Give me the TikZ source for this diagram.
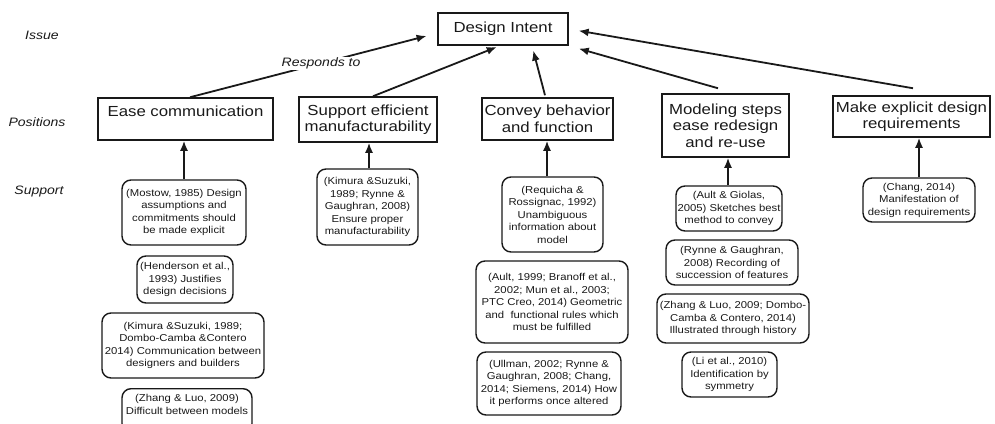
\documentclass[tikz,border=0pt]{standalone}
\usepackage{fontspec}
\setmainfont{Liberation Sans}
\newfontfamily\mainf[FakeStretch=1.15]{Liberation Sans}
\newfontfamily\supf[FakeStretch=1.13]{Liberation Sans}
\usetikzlibrary{arrows.meta,calc}
\definecolor{ink}{gray}{0.1}
\begin{document}
\begin{tikzpicture}[x=1pt,y=-1pt,
  mainbox/.style={draw=ink, line width=1.5pt, rectangle, inner sep=0pt, align=center, text=ink,
    font=\mainf\fontsize{14.6}{16.5}\selectfont},
  supbox/.style={draw=ink, line width=1.4pt, rounded corners=9pt, inner sep=0pt, align=center, text=ink,
    font=\supf\fontsize{10}{12.5}\selectfont},
  lab/.style={text=ink, font=\mainf\itshape\fontsize{12.2}{14}\selectfont},
  arr/.style={draw=ink, line width=1.8pt, -{Latex[length=10pt,width=8pt]}}]
\useasboundingbox (0,0) rectangle (995,423);

% labels on the left
\node[lab] (issue) at (42,35) {Issue};
\node[lab] (positions) at (37,122) {Positions};
\node[lab] (support) at (39,192) {Support};

% issue
\node[mainbox, minimum width=130, minimum height=32] (di) at (503,29) {Design Intent};

% positions
\node[mainbox, minimum width=175, minimum height=42] (ease) at (185.5,119) {Ease communication\\\mbox{}};
\node[mainbox, minimum width=138, minimum height=45] (seff) at (368,119.5) {Support efficient\\manufacturability};
\node[mainbox, minimum width=131, minimum height=42] (conv) at (547.5,119) {Convey behavior\\and function};
\node[mainbox, minimum width=127, minimum height=63] (model) at (725.5,125.5) {Modeling steps\\ease redesign\\and re-use};
\node[mainbox, minimum width=157, minimum height=41] (make) at (911.5,116.5) {Make explicit design\\requirements};

% support column 1
\node[supbox, minimum width=124, minimum height=65] (s1a) at (184,212.5) {(Mostow, 1985) Design\\assumptions and\\commitments should\\be made explicit};
\node[supbox, minimum width=96, minimum height=47] (s1b) at (185,279.5) {(Henderson et al.,\\1993) Justifies\\design decisions};
\node[supbox, minimum width=162, minimum height=65] (s1c) at (183,345.5) {(Kimura \&Suzuki, 1989;\\Dombo-Camba \&Contero\\2014) Communication between\\designers and builders};
\node[supbox, minimum width=130, minimum height=44, anchor=north] (s1d) at (187,388) {(Zhang \& Luo, 2009)\\Difficult between models\\\mbox{}};

% support column 2
\node[supbox, minimum width=101, minimum height=76] (s2) at (367.5,207) {(Kimura \&Suzuki,\\1989; Rynne \&\\Gaughran, 2008)\\Ensure proper\\manufacturability};

% support column 3
\node[supbox, minimum width=101, minimum height=75] (s3a) at (552.5,214.5) {(Requicha \&\\Rossignac, 1992)\\Unambiguous\\information about\\model};
\node[supbox, minimum width=152, minimum height=82] (s3b) at (552,302) {(Ault, 1999; Branoff et al.,\\2002; Mun et al., 2003;\\PTC Creo, 2014) Geometric\\and\ \ functional rules which\\must be fulfilled};
\node[supbox, minimum width=144, minimum height=63] (s3c) at (549,383.5) {(Ullman, 2002; Rynne \&\\Gaughran, 2008; Chang,\\2014; Siemens, 2014) How\\it performs once altered};

% support column 4
\node[supbox, minimum width=106, minimum height=45] (s4a) at (729,208.5) {(Ault \& Giolas,\\2005) Sketches best\\method to convey};
\node[supbox, minimum width=132, minimum height=45] (s4b) at (732,262.5) {(Rynne \& Gaughran,\\2008) Recording of\\succession of features};
\node[supbox, minimum width=152, minimum height=49] (s4c) at (733,318.5) {(Zhang \& Luo, 2009; Dombo-\\Camba \& Contero, 2014)\\Illustrated through history};
\node[supbox, minimum width=95, minimum height=45] (s4d) at (729.5,374.5) {(Li et al., 2010)\\Identification by\\symmetry};

% support column 5
\node[supbox, minimum width=112, minimum height=44] (s5) at (919,200) {(Chang, 2014)\\Manifestation of\\design requirements};

% positions -> issue
\draw[arr, shorten >=11pt] ($(ease.north)+(4.5,0)$) -- node[lab, fill=white, inner sep=1pt, pos=0.53] (resp) {Responds to} ($(di.west)+(0,4.2)$);
\draw[arr, shorten >=3.5pt] ($(seff.north)+(5,0)$) -- ($(di.south)+(-3,0)$);
\draw[arr, shorten >=5pt] ($(conv.north)+(-2.5,-2)$) -- ($(di.south)+(29,0)$);
\draw[arr, shorten >=10.4pt] ($(model.north)+(-7.5,-5)$) -- (di.south east);
\draw[arr, shorten >=10pt] ($(make.north)+(1.5,-7)$) -- (di.east);

% support -> positions
\draw[arr] (s1a.north) -- (s1a.north |- ease.south);
\draw[arr] ([xshift=1.5pt]s2.north) -- ([xshift=1.5pt]s2.north |- seff.south);
\draw[arr] ([xshift=-5.5pt]s3a.north) -- ([xshift=-5.5pt]s3a.north |- conv.south);
\draw[arr] ([xshift=-1pt]s4a.north) -- ([xshift=-1pt]s4a.north |- model.south);
\draw[arr] (s5.north) -- (s5.north |- make.south);
\end{tikzpicture}
\end{document}
